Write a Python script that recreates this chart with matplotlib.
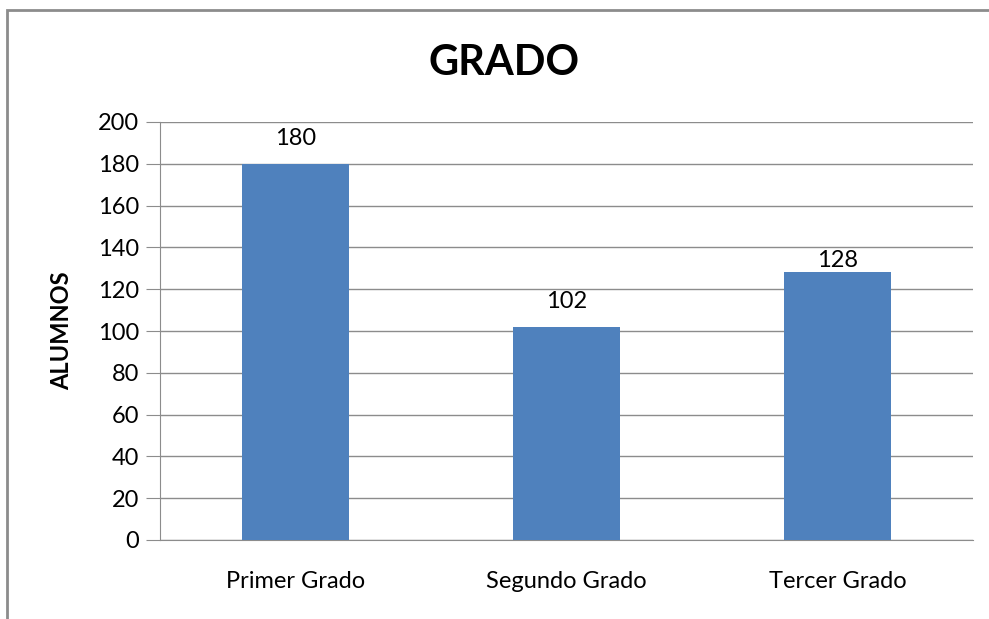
import matplotlib.pyplot as plt
from matplotlib.patches import Rectangle

categorias = ['Primer Grado', 'Segundo Grado', 'Tercer Grado']
alumnos = [180, 102, 128]
ticks_y = [0, 20, 40, 60, 80, 100, 120, 140, 160, 180, 200]

plt.rcParams['font.family'] = ['Lato', 'DejaVu Sans']

W, H = 989, 619
fig = plt.figure(figsize=(W / 100, H / 100), dpi=100)
# marco del gráfico (recortado a la derecha y abajo)
fig.patches.append(Rectangle((7 / W, -0.1), 1.2, (H - 10) / H + 0.1,
                             transform=fig.transFigure, fill=False,
                             edgecolor='#8c8c8c', linewidth=2))

ax = fig.add_axes([160 / W, 1 - 540 / H, (973 - 160) / W, (540 - 122) / H])
x = range(len(categorias))
barras = ax.bar(x, alumnos, width=0.395, color='#4F81BD', zorder=3)
# etiquetas de datos; la de "Tercer Grado" queda más pegada a la barra
separacion = [10.5, 10.5, 1.0]
for b, v, sep in zip(barras, alumnos, separacion):
    ax.annotate(str(v), (b.get_x() + b.get_width() / 2, b.get_height()),
                xytext=(0, sep), textcoords='offset points',
                ha='center', va='bottom', fontsize=17)

ax.set_xlim(-0.5, len(categorias) - 0.5)
ax.set_ylim(0, 200)
ax.set_yticks(ticks_y)
ax.set_xticks(list(x))
ax.set_xticklabels(categorias, fontsize=17)
ax.tick_params(axis='y', labelsize=17, length=10, color='#8c8c8c', pad=5)
ax.tick_params(axis='x', length=0, pad=22)
ax.grid(axis='y', color='#8c8c8c', linewidth=1, zorder=0)
for s in ['top', 'right']:
    ax.spines[s].set_visible(False)
for s in ['left', 'bottom']:
    ax.spines[s].set_color('#8c8c8c')

ax.set_ylabel('ALUMNOS', fontsize=17, fontweight='bold', labelpad=18)
fig.text(504 / W, 1 - 63 / H, 'GRADO', fontsize=30, fontweight='bold',
         ha='center', va='center')

fig.savefig('out.png', dpi=100)
